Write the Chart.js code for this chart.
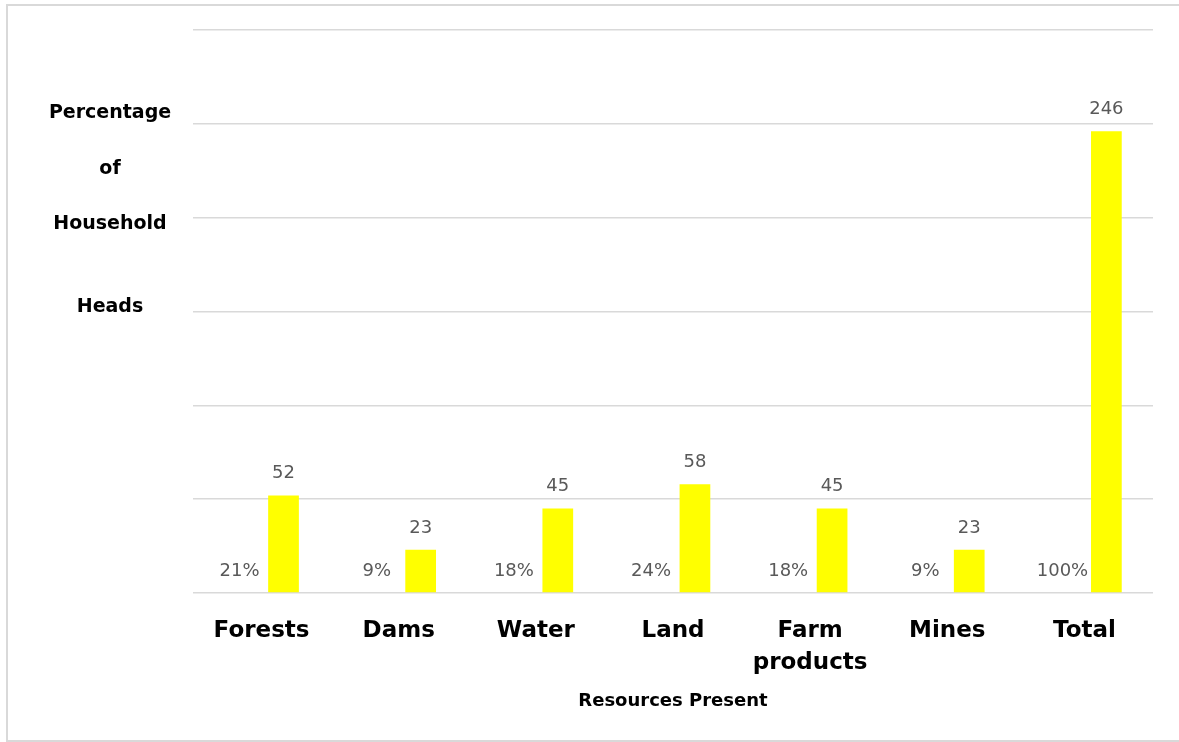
<!DOCTYPE html>
<html>
<head>
<meta charset="utf-8">
<script src="https://cdn.jsdelivr.net/npm/chart.js@4.4.1/dist/chart.umd.min.js"></script>
<style>
    html, body { margin: 0; padding: 0; background: #fff; overflow: hidden; }
    .frame {
        position: absolute; left: 6px; top: 4px; width: 1200px; height: 738px;
        border: 2px solid #d9d9d9; box-sizing: border-box;
    }
    .wrapper { position: absolute; left: 0; top: 0; width: 1179px; height: 742px; }
</style>
</head>
<body>
<div class="frame"></div>
<div class="wrapper"><canvas id="resourceChart"></canvas></div>
<script>
// Data
const categories = ['Forests', 'Dams', 'Water', 'Land', ['Farm', 'products'], 'Mines', 'Total'];
const percentLabels = ['21%', '9%', '18%', '24%', '18%', '9%', '100%'];
const percentBars = [0, 0, 0, 0, 0, 0, 0]; // percentages were text, so plotted at zero
const householdCounts = [52, 23, 45, 58, 45, 23, 246];
const yTicks = [0, 50, 100, 150, 200, 250, 300];
const yTitleLines = ['Percentage', 'of', 'Household', 'Heads'];

const FONT = "'DejaVu Sans', Verdana, sans-serif";

// Draws the value labels above each bar (and the % labels for the empty series)
const barLabels = {
    id: 'barLabels',
    afterDatasetsDraw(chart) {
        const ctx = chart.ctx;
        ctx.save();
        ctx.font = '18px ' + FONT;
        ctx.fillStyle = '#595959';
        ctx.textAlign = 'center';
        ctx.textBaseline = 'middle';
        chart.data.datasets.forEach((ds, i) => {
            chart.getDatasetMeta(i).data.forEach((bar, j) => {
                ctx.fillText(ds.labelsText[j], bar.x, bar.y - 22);
            });
        });
        ctx.restore();
    }
};

// Stacked y-axis title, written line by line like in the original
const yTitle = {
    id: 'yTitle',
    afterDraw(chart) {
        const ctx = chart.ctx;
        const rows = [113, 169, 224, 307];
        ctx.save();
        ctx.font = 'bold 19px ' + FONT;
        ctx.fillStyle = '#000';
        ctx.textAlign = 'center';
        ctx.textBaseline = 'middle';
        yTitleLines.forEach((t, i) => ctx.fillText(t, 110, rows[i]));
        ctx.restore();
    }
};

const ctx = document.getElementById('resourceChart').getContext('2d');
const resourceChart = new Chart(ctx, {
    type: 'bar',
    data: {
        labels: categories,
        datasets: [
            {
                label: 'Percentage',
                data: percentBars,
                labelsText: percentLabels,
                backgroundColor: 'rgba(0,0,0,0)',
                categoryPercentage: 0.64,
                barPercentage: 0.7
            },
            {
                label: 'Household heads',
                data: householdCounts,
                labelsText: householdCounts.map(String),
                backgroundColor: '#ffff00',
                categoryPercentage: 0.64,
                barPercentage: 0.7
            }
        ]
    },
    options: {
        responsive: true,
        maintainAspectRatio: false,
        animation: false,
        layout: {
            padding: { left: 193, right: 26, top: 30, bottom: 0 }
        },
        scales: {
            y: {
                min: 0,
                max: 300,
                afterBuildTicks: (scale) => { scale.ticks = yTicks.map(v => ({ value: v })); },
                afterFit: (scale) => { scale.width = 0; },
                ticks: { display: false },
                border: { display: false },
                grid: { color: '#d9d9d9', lineWidth: 1.5, drawTicks: false }
            },
            x: {
                afterFit: (scale) => { scale.height = 742 - 593; },
                grid: { display: false },
                border: { display: false },
                ticks: {
                    color: '#000',
                    padding: 14,
                    maxRotation: 0,
                    autoSkip: false,
                    font: { family: FONT, size: 23, weight: 'bold', lineHeight: 1.4 }
                },
                title: {
                    display: true,
                    text: 'Resources Present',
                    color: '#000',
                    font: { family: FONT, size: 18, weight: 'bold' },
                    padding: { top: 0, bottom: 30 }
                }
            }
        },
        plugins: {
            legend: { display: false },
            tooltip: { enabled: false }
        }
    },
    plugins: [barLabels, yTitle]
});
</script>
</body>
</html>
